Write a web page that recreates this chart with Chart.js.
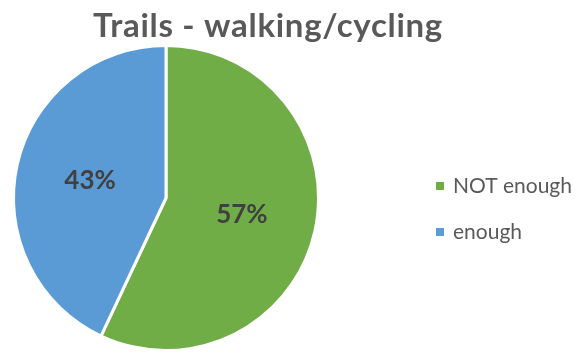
<!DOCTYPE html>
<html>
<head>
<meta charset="utf-8">
<script src="https://cdn.jsdelivr.net/npm/chart.js@4"></script>
<style>
  html, body { margin: 0; padding: 0; background: #fff; }
  #wrap { width: 576px; height: 352px; }
</style>
</head>
<body>
<div id="wrap"><canvas id="myChart" width="576" height="352"></canvas></div>
<script>
const ctx = document.getElementById('myChart').getContext('2d');

const judul = 'Trails - walking/cycling';
const kategori = ['NOT enough', 'enough'];
const persen = [57, 43];
const warna = ['#70AD47', '#5B9BD5'];

// title + legend drawn by hand so they sit where the layout wants them
const titleLegend = {
  id: 'titleLegend',
  afterDraw(chart) {
    const c = chart.ctx;
    c.save();
    c.fillStyle = '#595959';
    c.font = 'bold 33px Lato';
    c.letterSpacing = '0.7px';
    c.textAlign = 'center';
    c.textBaseline = 'alphabetic';
    c.fillText(judul, 268, 37);

    c.letterSpacing = '0px';
    c.font = '21px Lato';
    c.textAlign = 'left';
    c.textBaseline = 'middle';
    kategori.forEach((label, i) => {
      const y = 186 + i * 46;
      c.fillStyle = warna[i];
      c.fillRect(436, y - 4, 8, 8);
      c.fillStyle = '#595959';
      c.fillText(label, 453, y);
    });
    c.restore();
  }
};

// percentage labels inside each slice
const sliceLabels = {
  id: 'sliceLabels',
  afterDatasetsDraw(chart) {
    const c = chart.ctx;
    const meta = chart.getDatasetMeta(0);
    c.save();
    c.font = 'bold 26px Lato';
    c.fillStyle = '#404040';
    c.textAlign = 'center';
    c.textBaseline = 'middle';
    meta.data.forEach((arc, i) => {
      const {x, y, startAngle, endAngle, outerRadius} = arc.getProps(['x', 'y', 'startAngle', 'endAngle', 'outerRadius'], true);
      const mid = (startAngle + endAngle) / 2;
      const r = outerRadius * 0.51;
      c.fillText(persen[i] + '%', x + Math.cos(mid) * r, y + Math.sin(mid) * r);
    });
    c.restore();
  }
};

const data = {
  labels: kategori,
  datasets: [{
    data: persen,
    backgroundColor: warna,
    borderColor: '#ffffff',
    borderWidth: 3
  }]
};

const config = {
  type: 'pie',
  data: data,
  options: {
    responsive: false,
    animation: false,
    layout: {
      padding: { top: 44, bottom: 0, left: 12, right: 256 }
    },
    plugins: {
      legend: { display: false },
      title: { display: false },
      tooltip: { enabled: false }
    }
  },
  plugins: [sliceLabels, titleLegend]
};

const myChart = new Chart(ctx, config);
</script>
</body>
</html>
